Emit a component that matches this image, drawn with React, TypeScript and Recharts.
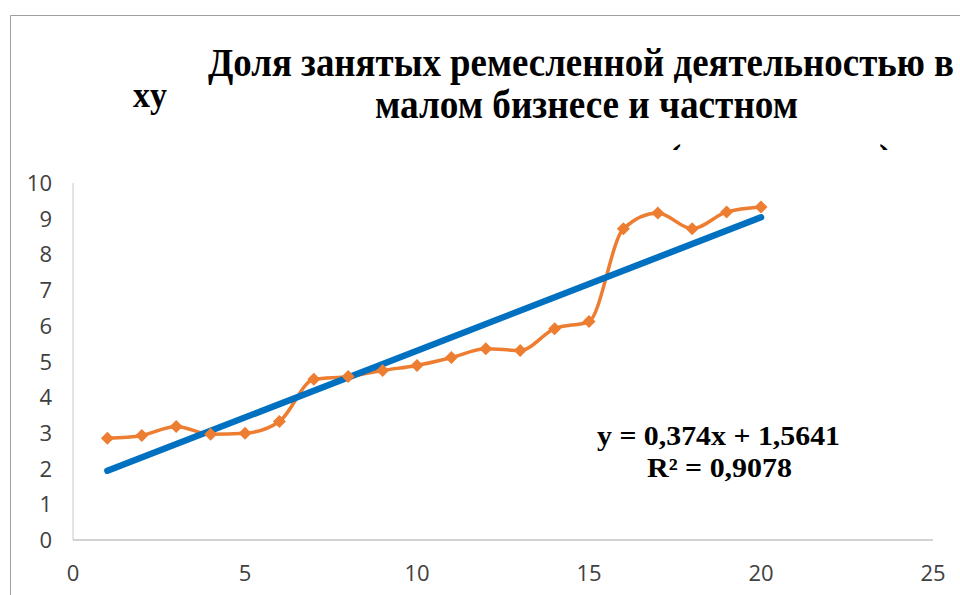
import { LineChart, Line, XAxis, YAxis } from 'recharts';

// номер наблюдения
const periods = [1, 2, 3, 4, 5, 6, 7, 8, 9, 10, 11, 12, 13, 14, 15, 16, 17, 18, 19, 20];
// доля занятых, %
const shares = [2.85, 2.93, 3.18, 2.96, 2.99, 3.32, 4.5, 4.58, 4.75, 4.89, 5.11, 5.36, 5.31, 5.92, 6.12, 8.72, 9.16, 8.72, 9.19, 9.33];
// линейный тренд (концы линии)
const trendX = [1, 20];
const trendY = [1.94, 9.04];

const xTicks = [0, 5, 10, 15, 20, 25];
const yTicks = [0, 1, 2, 3, 4, 5, 6, 7, 8, 9, 10];

const actual = periods.map((x, i) => ({ x, y: shares[i] }));
const trend = trendX.map((x, i) => ({ x, y: trendY[i] }));

const tickFont = { fontFamily: '"Open Sans", sans-serif', fontSize: 22, fill: '#404040' };
const serif = '"Liberation Serif", "Times New Roman", serif';

const YTick = ({ x, y, payload }: any) => (
    <text x={x - 21} y={y} dy={8} textAnchor="end" {...tickFont}>{payload.value}</text>
);

const XTick = ({ x, y, payload }: any) => (
    <text x={x} y={y + 41} textAnchor="middle" {...tickFont}>{payload.value}</text>
);

const Diamond = ({ cx, cy }: any) => {
    if (cx == null || cy == null) return null;
    const r = 6.5;
    return <polygon points={`${cx},${cy - r} ${cx + r},${cy} ${cx},${cy + r} ${cx - r},${cy}`} fill="#ED7D31" />;
};

export default function App() {
    return (
        <div style={{ position: 'absolute', left: 0, top: 0, width: 960, height: 595, background: '#fff' }}>
            <LineChart width={960} height={595} margin={{ top: 183, right: 27, bottom: 0, left: 0 }}>
                <XAxis
                    type="number"
                    dataKey="x"
                    domain={[0, 25]}
                    ticks={xTicks}
                    height={55}
                    tickLine={false}
                    tickSize={0}
                    tickMargin={0}
                    stroke="#A6A6A6"
                    tick={<XTick />}
                />
                <YAxis
                    type="number"
                    domain={[0, 10]}
                    ticks={yTicks}
                    width={73}
                    tickLine={false}
                    tickSize={0}
                    tickMargin={0}
                    stroke="#C8C8C8"
                    tick={<YTick />}
                />
                <Line
                    data={actual}
                    dataKey="y"
                    type="monotone"
                    stroke="#ED7D31"
                    strokeWidth={3.5}
                    dot={<Diamond />}
                    activeDot={false}
                    isAnimationActive={false}
                />
                <Line
                    data={trend}
                    dataKey="y"
                    type="linear"
                    stroke="#0070C0"
                    strokeWidth={6.5}
                    strokeLinecap="round"
                    dot={false}
                    activeDot={false}
                    isAnimationActive={false}
                />
            </LineChart>
            <svg width={960} height={595} style={{ position: 'absolute', left: 0, top: 0, pointerEvents: 'none' }}>
                <defs>
                    <clipPath id="titleClip">
                        <rect x={0} y={0} width={960} height={150} />
                    </clipPath>
                </defs>
                <path d="M10.5,595 V15.5 H960" fill="none" stroke="#A0A0A0" strokeWidth={1} />
                <g fontFamily={serif} fontWeight="bold" fill="#000">
                    <text x={208} y={76} fontSize={40} textLength={746} lengthAdjust="spacingAndGlyphs">
                        Доля занятых ремесленной деятельностью в
                    </text>
                    <text x={375} y={118} fontSize={40} textLength={423} lengthAdjust="spacingAndGlyphs">
                        малом бизнесе и частном
                    </text>
                    <g clipPath="url(#titleClip)">
                        <text x={668} y={172} fontSize={40}>(</text>
                        <text x={879} y={172} fontSize={40}>)</text>
                    </g>
                    <text x={133} y={107} fontSize={36} textLength={34} lengthAdjust="spacingAndGlyphs">xy</text>
                    <text x={597} y={445} fontSize={27} textLength={243} lengthAdjust="spacingAndGlyphs">
                        y = 0,374x + 1,5641
                    </text>
                    <text x={647} y={477} fontSize={27} textLength={145} lengthAdjust="spacingAndGlyphs">
                        R² = 0,9078
                    </text>
                </g>
            </svg>
        </div>
    );
}
